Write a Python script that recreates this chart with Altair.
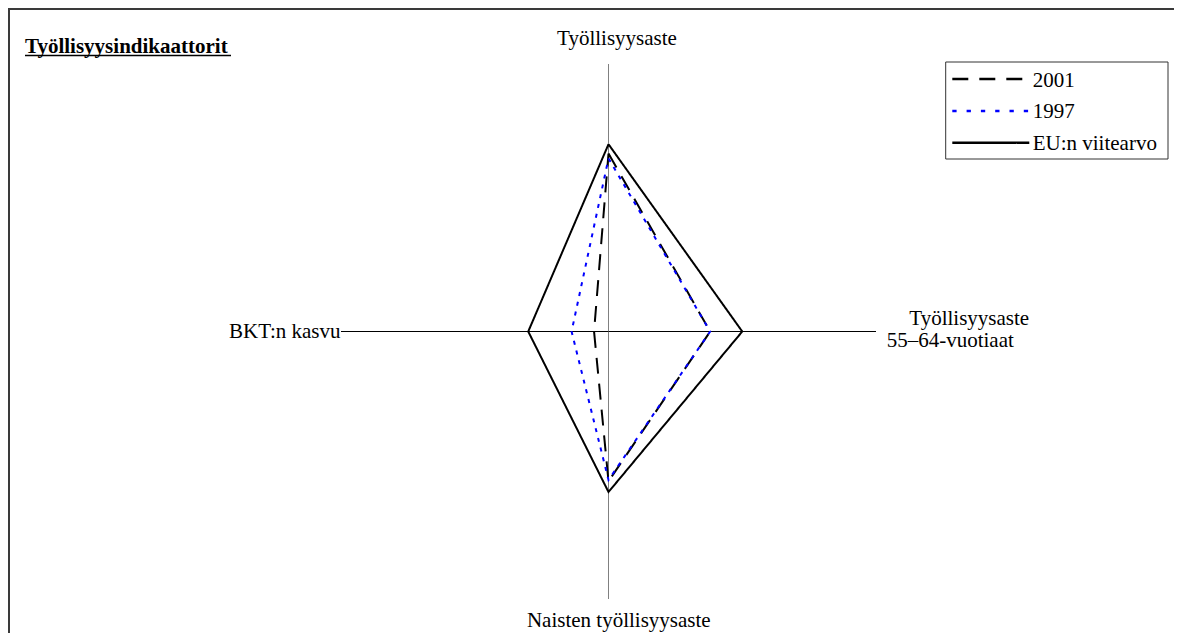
import altair as alt
import pandas as pd

# ---------------- data ----------------
AXES = ["Työllisyysaste", "Työllisyysaste 55–64-vuotiaat", "Naisten työllisyysaste", "BKT:n kasvu"]
SERIES = ["2001", "1997", "EU:n viitearvo"]
V2001 = [66.5, 38.0, 56.0, 5.4]
V1997 = [64.7, 38.0, 55.5, 13.8]
VEU = [70.0, 50.0, 60.0, 30.0]
AXIS_MAX = 100
TITLE = "Työllisyysindikaattorit"

# ---------------- layout / style ----------------
W, H = 1166, 625
CX, CY = 600.5, 323.5      # plot-pixel position of the centre
K = 2.675                  # pixels per unit
FONT = "Liberation Serif"
FS = 21
BORDER = "#3a3a3a"
COLORS = ["black", "#0000ff", "black"]
DASH_CHART = [[16, 10], [4, 6], [1, 0]]
DASH_LEG = [[16, 11], [4.3, 10], [1, 0]]

xs = alt.Scale(domain=[-CX / K, (W - CX) / K], nice=False, zero=False)
ys = alt.Scale(domain=[-(H - CY) / K, CY / K], nice=False, zero=False)

rows = []
for s, vals in zip(SERIES, [V2001, V1997, VEU]):
    for k in range(5):
        rows.append({"series": s, "axis": AXES[k % 4], "i": k % 4, "ord": k, "value": vals[k % 4]})
df = pd.DataFrame(rows)

axdf = pd.DataFrame({"axis": AXES, "i": list(range(4)), "len": [AXIS_MAX] * 4})

rules = alt.Chart(axdf).transform_calculate(
    x0="0", y0="0",
    x1="datum.len * sin(datum.i * PI / 2)",
    y1="datum.len * cos(datum.i * PI / 2)",
).mark_rule(strokeWidth=1).encode(
    x=alt.X("x0:Q", scale=xs, axis=None),
    y=alt.Y("y0:Q", scale=ys, axis=None),
    x2="x1:Q",
    y2="y1:Q",
    color=alt.condition("datum.i % 2 == 0", alt.value("#808080"), alt.value("black")),
)

polys = alt.Chart(df).transform_calculate(
    px="datum.value * sin(datum.i * PI / 2)",
    py="datum.value * cos(datum.i * PI / 2)",
).mark_line(strokeWidth=2, strokeJoin="miter").encode(
    x=alt.X("px:Q", scale=xs, axis=None),
    y=alt.Y("py:Q", scale=ys, axis=None),
    order="ord:Q",
    detail="series:N",
    color=alt.Color("series:N", scale=alt.Scale(domain=SERIES, range=COLORS), legend=None),
    strokeDash=alt.StrokeDash("series:N", scale=alt.Scale(domain=SERIES, range=DASH_CHART), legend=None),
)

one = alt.Data(values=[{}])

def text(t, x, y, align="left", bold=False):
    return alt.Chart(one).mark_text(
        text=t, align=align, baseline="alphabetic", font=FONT, fontSize=FS,
        fontWeight="bold" if bold else "normal", color="black",
    ).encode(x=alt.value(x), y=alt.value(y))

labels = [
    text(AXES[0], 609, 37, "center"),
    text("Työllisyysaste", 901.3, 317),
    text("55–64-vuotiaat", 878.7, 338.5),
    text(AXES[2], 610.8, 618.7, "center"),
    text(AXES[3], 221, 330),
    text(TITLE, 17, 45, bold=True),
]

underline = alt.Chart(one).mark_rule(strokeWidth=1.5, color="black").encode(
    x=alt.value(17), x2=alt.value(223), y=alt.value(47.5))

border_l = alt.Chart(one).mark_rule(strokeWidth=2, color=BORDER).encode(
    x=alt.value(1), y=alt.value(0), y2=alt.value(H))
border_t = alt.Chart(one).mark_rule(strokeWidth=2, color=BORDER).encode(
    x=alt.value(0), x2=alt.value(W), y=alt.value(1))

box = alt.Chart(one).mark_rect(fill="white", stroke="#333333", strokeWidth=1).encode(
    x=alt.value(937.7), x2=alt.value(1160), y=alt.value(54), y2=alt.value(151))

leg = []
ly = [71, 103, 134.7]
ty = [78.7, 110, 142]
for j, s in enumerate(SERIES):
    leg.append(alt.Chart(one).mark_rule(strokeWidth=2.5, color=COLORS[j], strokeDash=DASH_LEG[j]).encode(
        x=alt.value(944.3), x2=alt.value(1021.3), y=alt.value(ly[j])))
    leg.append(text(s, 1024.7, ty[j]))

chart = alt.layer(
    rules, polys, border_l, border_t, underline, box, *leg, *labels
).properties(
    width=W, height=H,
    autosize=alt.AutoSizeParams(type="none"),
    padding=0,
    view=alt.ViewBackground(stroke="transparent", strokeWidth=0, strokeOpacity=0),
).configure_view(stroke="transparent", strokeWidth=0, strokeOpacity=0)

chart.save("out.html", embed_options={"renderer": "svg", "actions": False})
